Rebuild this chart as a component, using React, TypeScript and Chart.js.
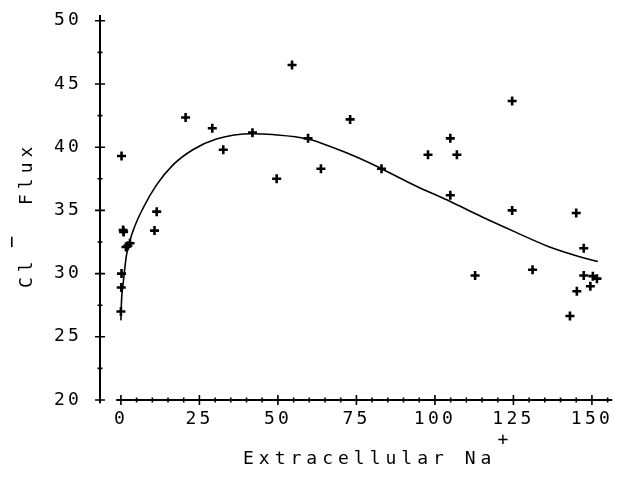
import React, { useEffect, useRef } from 'react';
import { Chart, registerables } from 'chart.js';

Chart.register(...registerables);

// Measured points: extracellular Na+ (x) and Cl- flux (y)
const naValues = [0.2, 0.86, 0.7, 1.6, 2.2, 2.9, 0.2, 0.1, 0, 10.7, 11.4, 20.6, 29.1, 32.6, 41.9, 49.6, 54.5, 59.6, 63.7, 73.0, 83.0, 97.8, 104.9, 107.0, 104.9, 112.8, 124.6, 124.6, 131.1, 143.0, 145.0, 145.2, 147.4, 147.4, 149.5, 150.3, 151.6];
const fluxValues = [39.3, 33.3, 33.45, 32.1, 32.2, 32.4, 30.0, 28.9, 27.0, 33.4, 34.9, 42.35, 41.5, 39.8, 41.15, 37.5, 46.5, 40.7, 38.3, 42.2, 38.3, 39.4, 40.7, 39.4, 36.2, 29.85, 43.65, 35.0, 30.3, 26.65, 34.8, 28.6, 32.0, 29.85, 29.0, 29.8, 29.6];

// Fitted curve
const curveNa = [0, 0.2, 0.7, 1.8, 3.9, 7.1, 11.3, 16.6, 22.9, 30.4, 41.9, 48.3, 59.6, 67.3, 75.8, 83.0, 93.8, 104.9, 114.9, 125.5, 136.1, 146.6, 151.9];
const curveFlux = [26.3, 27.9, 29.2, 31.5, 33.4, 35.2, 37.0, 38.6, 39.8, 40.65, 41.07, 41.0, 40.65, 40.0, 39.15, 38.3, 36.95, 35.7, 34.5, 33.3, 32.15, 31.3, 30.95];

// Axis ticks
const xTickLabels = [0, 25, 50, 75, 100, 125, 150];
const xMinorTicks = [5, 10, 15, 20, 30, 35, 40, 45, 55, 60, 65, 70, 80, 85, 90, 95, 105, 110, 115, 120, 130, 135, 140, 145, 155];
const yTickLabels = [20, 25, 30, 35, 40, 45, 50];
const yMinorTicks = [22.5, 27.5, 32.5, 37.5, 42.5, 47.5];

const xTitle = 'Extracellular Na';
const xTitleSup = '+';
const yTitleMain = 'Cl';
const yTitleSup = '\u2212';
const yTitleRest = 'Flux';

const X_MIN = -6.66;
const X_MAX = 157.0;
const Y_MIN = 20;
const Y_MAX = 50;

const FONT = '"DejaVu Sans Mono", "Liberation Mono", monospace';

const plotterPlugin = {
  id: 'plotterAxes',
  beforeLayout(chart: any) {
    chart.ctx.letterSpacing = '3.2px';
  },
  beforeDraw(chart: any) {
    chart.ctx.letterSpacing = '3.2px';
  },
  afterDraw(chart: any) {
    const { ctx } = chart;
    const xs = chart.scales.x;
    const ys = chart.scales.y;
    ctx.save();
    ctx.strokeStyle = '#000';
    ctx.fillStyle = '#000';
    const ax = xs.getPixelForValue(X_MIN);
    const ay = ys.getPixelForValue(Y_MIN);

    // axis lines
    ctx.lineWidth = 2;
    ctx.beginPath();
    ctx.moveTo(ax, ys.getPixelForValue(19.75));
    ctx.lineTo(ax, ys.getPixelForValue(50.45));
    ctx.moveTo(xs.getPixelForValue(-1.5), ay);
    ctx.lineTo(xs.getPixelForValue(156.5), ay);
    ctx.stroke();

    // major ticks (crossing)
    ctx.lineWidth = 1.6;
    ctx.beginPath();
    yTickLabels.forEach((v) => {
      const p = ys.getPixelForValue(v);
      ctx.moveTo(ax - 5, p);
      ctx.lineTo(ax + 5, p);
    });
    xTickLabels.forEach((v) => {
      const p = xs.getPixelForValue(v);
      ctx.moveTo(p, ay - 5);
      ctx.lineTo(p, ay + 5);
    });
    ctx.stroke();

    // minor ticks
    ctx.lineWidth = 1.6;
    ctx.beginPath();
    yMinorTicks.forEach((v) => {
      const p = ys.getPixelForValue(v);
      ctx.moveTo(ax - 2.5, p);
      ctx.lineTo(ax + 2.5, p);
    });
    xMinorTicks.forEach((v) => {
      const p = xs.getPixelForValue(v);
      ctx.moveTo(p, ay - 2.5);
      ctx.lineTo(p, ay + 2.5);
    });
    ctx.stroke();

    // x title
    ctx.font = `18px ${FONT}`;
    ctx.letterSpacing = '5px';
    ctx.textAlign = 'left';
    ctx.textBaseline = 'alphabetic';
    ctx.fillText(xTitle, 243, 464);
    ctx.letterSpacing = '0px';
    ctx.textAlign = 'center';
    ctx.fillText(xTitleSup, 503, 445);

    // y title (rotated)
    ctx.translate(32, 288);
    ctx.rotate(-Math.PI / 2);
    ctx.letterSpacing = '5px';
    ctx.textAlign = 'left';
    ctx.fillText(yTitleMain, 0, 0);
    ctx.letterSpacing = '0px';
    ctx.font = `20px ${FONT}`;
    ctx.fillText(yTitleSup, 40, -14);
    ctx.font = `18px ${FONT}`;
    ctx.letterSpacing = '5px';
    ctx.fillText(yTitleRest, 83, 0);
    ctx.restore();
  },
};

export default function App() {
  const canvasRef = useRef<HTMLCanvasElement | null>(null);

  useEffect(() => {
    const canvas = canvasRef.current;
    if (!canvas) return;
    const points = naValues.map((x, i) => ({ x, y: fluxValues[i] }));
    const curve = curveNa.map((x, i) => ({ x, y: curveFlux[i] }));

    const chart = new Chart(canvas, {
      type: 'scatter',
      data: {
        datasets: [
          {
            label: 'Fit',
            data: curve,
            showLine: true,
            borderColor: '#000',
            borderWidth: 1.6,
            pointRadius: 0,
            fill: false,
            cubicInterpolationMode: 'monotone',
          } as any,
          {
            label: 'Cl- flux',
            data: points,
            pointStyle: 'cross',
            pointRadius: 4.5,
            borderColor: '#000',
            backgroundColor: '#000',
            borderWidth: 2.6,
            showLine: false,
          } as any,
        ],
      },
      options: {
        responsive: false,
        animation: false,
        devicePixelRatio: 1,
        layout: { padding: { top: 18, right: 5, left: 0, bottom: 0 } },
        plugins: {
          legend: { display: false },
          tooltip: { enabled: false },
          title: { display: false },
        },
        scales: {
          x: {
            type: 'linear',
            min: X_MIN,
            max: X_MAX,
            grid: { display: false },
            border: { display: false },
            afterBuildTicks: (scale: any) => {
              scale.ticks = xTickLabels.map((v) => ({ value: v }));
            },
            afterFit: (scale: any) => {
              scale.height = 82;
            },
            ticks: {
              color: '#000',
              padding: 2,
              maxRotation: 0,
              autoSkip: false,
              font: { family: FONT, size: 18, lineHeight: 1 },
              callback: (v: any) => String(v),
            },
          },
          y: {
            type: 'linear',
            min: Y_MIN,
            max: Y_MAX,
            grid: { display: false },
            border: { display: false },
            afterBuildTicks: (scale: any) => {
              scale.ticks = yTickLabels.map((v) => ({ value: v }));
            },
            afterFit: (scale: any) => {
              scale.width = 100;
            },
            ticks: {
              color: '#000',
              padding: 10,
              autoSkip: false,
              font: { family: FONT, size: 18 },
              callback: (v: any) => String(v),
            },
          },
        },
      },
      plugins: [plotterPlugin],
    });

    return () => chart.destroy();
  }, []);

  return (
    <div style={{ position: 'fixed', left: 0, top: 0, width: 621, height: 482, background: '#fff' }}>
      <canvas ref={canvasRef} width={621} height={482} style={{ display: 'block' }} />
    </div>
  );
}
